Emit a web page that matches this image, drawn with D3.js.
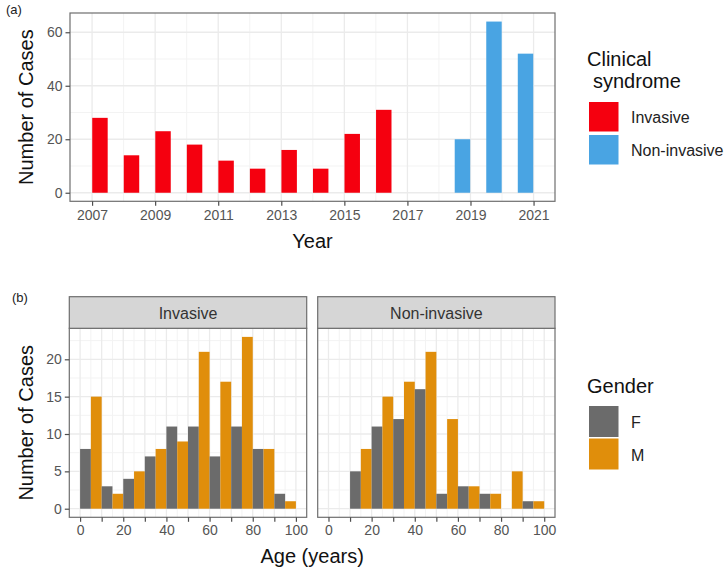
<!DOCTYPE html>
<html>
<head>
<meta charset="utf-8">
<script src="https://cdn.jsdelivr.net/npm/d3@7"></script>
<style>
  html, body { margin: 0; padding: 0; background: #fff; }
  svg { display: block; font-family: "Liberation Sans", Arial, Helvetica, sans-serif; }
</style>
</head>
<body>
<svg id="chart" width="728" height="571"></svg>
<script>
// ---------- Data ----------
const invasiveYears = [2007, 2008, 2009, 2010, 2011, 2012, 2013, 2014, 2015, 2016];
const invasiveCounts = [28, 14, 23, 18, 12, 9, 16, 9, 22, 31];
const nonInvasiveYears = [2019, 2020, 2021];
const nonInvasiveCounts = [20, 64, 52];
const yearTicks = [2007, 2009, 2011, 2013, 2015, 2017, 2019, 2021];
const yearMinor = [2008, 2010, 2012, 2014, 2016, 2018, 2020];
const casesTicksA = [0, 20, 40, 60];
const syndromes = ["Invasive", "Non-invasive"];

const ageBins = [0, 10, 20, 30, 40, 50, 60, 70, 80, 90];
const invasiveF = [8, 3, 4, 7, 11, 11, 7, 11, 8, 2];
const invasiveM = [15, 2, 5, 8, 9, 21, 17, 23, 8, 1];
const nonInvasiveF = [0, 5, 11, 12, 16, 2, 3, 2, 0, 1];
const nonInvasiveM = [0, 8, 15, 17, 21, 12, 3, 2, 5, 1];
const ageTicks = [0, 10, 20, 30, 40, 50, 60, 70, 80, 90, 100];
const ageLabels = ["0", "", "20", "", "40", "", "60", "", "80", "", "100"];
const casesTicksB = [0, 5, 10, 15, 20];
const genders = ["F", "M"];

// ---------- Styles ----------
const colSyn = { "Invasive": "#F5000F", "Non-invasive": "#49A4E3" };
const colGen = { "F": "#6B6B6B", "M": "#E08E0B" };
const gridMajor = "#EBEBEB", gridMinor = "#F3F3F3";
const borderCol = "#6E6E6E", tickCol = "#4D4D4D", tickTextCol = "#555555";

const svg = d3.select("#chart");

// ================= Panel (a) =================
const A = { left: 70, right: 555, top: 13, bottom: 201.3 };
const xA = d3.scaleLinear().domain([2006.3, 2021.68]).range([A.left, A.right]);
const yA = d3.scaleLinear().domain([-3.2, 67.2]).range([A.bottom, A.top]);

const gA = svg.append("g");
// grid
gA.selectAll(".vmin").data(yearMinor).enter().append("line")
  .attr("x1", d => xA(d)).attr("x2", d => xA(d)).attr("y1", A.top).attr("y2", A.bottom)
  .attr("stroke", gridMinor).attr("stroke-width", 1);
gA.selectAll(".hmin").data([10, 30, 50]).enter().append("line")
  .attr("y1", d => yA(d)).attr("y2", d => yA(d)).attr("x1", A.left).attr("x2", A.right)
  .attr("stroke", gridMinor).attr("stroke-width", 1);
gA.selectAll(".vmaj").data(yearTicks).enter().append("line")
  .attr("x1", d => xA(d)).attr("x2", d => xA(d)).attr("y1", A.top).attr("y2", A.bottom)
  .attr("stroke", gridMajor).attr("stroke-width", 1.3);
gA.selectAll(".hmaj").data(casesTicksA).enter().append("line")
  .attr("y1", d => yA(d)).attr("y2", d => yA(d)).attr("x1", A.left).attr("x2", A.right)
  .attr("stroke", gridMajor).attr("stroke-width", 1.3);

// bars
const barW = 0.49;
const barsA = invasiveYears.map((y, i) => ({ year: y, n: invasiveCounts[i], s: "Invasive", x0: y + 0.005 }))
  .concat(nonInvasiveYears.map((y, i) => ({ year: y, n: nonInvasiveCounts[i], s: "Non-invasive", x0: y - 0.5 })));
gA.selectAll(".barA").data(barsA).enter().append("rect")
  .attr("x", d => xA(d.x0)).attr("width", d => xA(d.x0 + barW) - xA(d.x0))
  .attr("y", d => yA(d.n)).attr("height", d => yA(0) - yA(d.n))
  .attr("fill", d => colSyn[d.s]);

// border
gA.append("rect").attr("x", A.left).attr("y", A.top)
  .attr("width", A.right - A.left).attr("height", A.bottom - A.top)
  .attr("fill", "none").attr("stroke", borderCol).attr("stroke-width", 1.2);

// axes
const axA_x = svg.append("g").attr("transform", `translate(0,${A.bottom})`)
  .call(d3.axisBottom(xA).tickValues(yearTicks).tickFormat(d3.format("d")).tickSizeOuter(0).tickSize(4.5).tickPadding(4));
const axA_y = svg.append("g").attr("transform", `translate(${A.left},0)`)
  .call(d3.axisLeft(yA).tickValues(casesTicksA).tickSizeOuter(0).tickSize(4.5).tickPadding(3));
[axA_x, axA_y].forEach(ax => {
  ax.select(".domain").remove();
  ax.selectAll(".tick line").attr("stroke", tickCol).attr("stroke-width", 1.2);
  ax.selectAll(".tick text").attr("fill", tickTextCol).style("font-size", "14px").style("font-family", "Liberation Sans, Arial, sans-serif");
});

svg.append("text").attr("x", xA(2006.3 + (2021.68 - 2006.3) / 2)).attr("y", 248)
  .attr("text-anchor", "middle").style("font-size", "20px").attr("fill", "#111").text("Year");
svg.append("text").attr("transform", `translate(33,${(A.top + A.bottom) / 2}) rotate(-90)`)
  .attr("text-anchor", "middle").style("font-size", "20px").attr("fill", "#111").text("Number of Cases");
svg.append("text").attr("x", 6).attr("y", 14).style("font-size", "13px").attr("fill", "#222").text("(a)");

// legend (a)
svg.append("text").attr("x", 587).attr("y", 66).style("font-size", "20px").attr("fill", "#111").text("Clinical");
svg.append("text").attr("x", 593).attr("y", 88).style("font-size", "20px").attr("fill", "#111").text("syndrome");
const legA = svg.append("g");
syndromes.forEach((s, i) => {
  const y0 = 102 + i * 33;
  legA.append("rect").attr("x", 589).attr("y", y0).attr("width", 29.5).attr("height", 29.5).attr("fill", colSyn[s]);
  legA.append("text").attr("x", 631).attr("y", y0 + 21).style("font-size", "16px").attr("fill", "#222").text(s);
});

// ================= Panel (b) =================
const B = { top: 328.3, bottom: 517.3, stripTop: 296.7 };
const panelsB = [
  { name: "Invasive", left: 69.3, right: 306.7, F: invasiveF, M: invasiveM },
  { name: "Non-invasive", left: 317.7, right: 555, F: nonInvasiveF, M: nonInvasiveM }
];
const yB = d3.scaleLinear().domain([-1.15, 24.15]).range([B.bottom, B.top]);
const ageMinor = d3.range(5, 100, 10).concat([-5, 105]);
const casesMinor = [2.5, 7.5, 12.5, 17.5, 22.5];

panelsB.forEach(p => {
  const xB = d3.scaleLinear().domain([-5, 105]).range([p.left, p.right]);
  const g = svg.append("g");
  g.selectAll(".vmin").data(ageMinor.filter(d => d > -5 && d < 105)).enter().append("line")
    .attr("x1", d => xB(d)).attr("x2", d => xB(d)).attr("y1", B.top).attr("y2", B.bottom)
    .attr("stroke", gridMinor).attr("stroke-width", 1);
  g.selectAll(".hmin").data(casesMinor).enter().append("line")
    .attr("y1", d => yB(d)).attr("y2", d => yB(d)).attr("x1", p.left).attr("x2", p.right)
    .attr("stroke", gridMinor).attr("stroke-width", 1);
  g.selectAll(".vmaj").data(ageTicks).enter().append("line")
    .attr("x1", d => xB(d)).attr("x2", d => xB(d)).attr("y1", B.top).attr("y2", B.bottom)
    .attr("stroke", gridMajor).attr("stroke-width", 1.3);
  g.selectAll(".hmaj").data(casesTicksB).enter().append("line")
    .attr("y1", d => yB(d)).attr("y2", d => yB(d)).attr("x1", p.left).attr("x2", p.right)
    .attr("stroke", gridMajor).attr("stroke-width", 1.3);

  const bars = [];
  ageBins.forEach((b, i) => {
    if (p.F[i] > 0) bars.push({ x0: b, n: p.F[i], gnd: "F" });
    if (p.M[i] > 0) bars.push({ x0: b + 5, n: p.M[i], gnd: "M" });
  });
  g.selectAll(".barB").data(bars).enter().append("rect")
    .attr("x", d => xB(d.x0)).attr("width", d => xB(d.x0 + 5) - xB(d.x0))
    .attr("y", d => yB(d.n)).attr("height", d => yB(0) - yB(d.n))
    .attr("fill", d => colGen[d.gnd]);

  g.append("rect").attr("x", p.left).attr("y", B.top)
    .attr("width", p.right - p.left).attr("height", B.bottom - B.top)
    .attr("fill", "none").attr("stroke", borderCol).attr("stroke-width", 1.2);
  // strip
  g.append("rect").attr("x", p.left).attr("y", B.stripTop)
    .attr("width", p.right - p.left).attr("height", B.top - B.stripTop)
    .attr("fill", "#D6D6D6").attr("stroke", borderCol).attr("stroke-width", 1.2);
  g.append("text").attr("x", (p.left + p.right) / 2).attr("y", (B.stripTop + B.top) / 2 + 6)
    .attr("text-anchor", "middle").style("font-size", "16px").attr("fill", "#333").text(p.name);

  const ax = svg.append("g").attr("transform", `translate(0,${B.bottom})`)
    .call(d3.axisBottom(xB).tickValues(ageTicks).tickFormat((d, i) => ageLabels[i]).tickSizeOuter(0).tickSize(4.5).tickPadding(3));
  ax.select(".domain").remove();
  ax.selectAll(".tick line").attr("stroke", tickCol).attr("stroke-width", 1.2);
  ax.selectAll(".tick text").attr("fill", tickTextCol).style("font-size", "14px").style("font-family", "Liberation Sans, Arial, sans-serif");
});

const axB_y = svg.append("g").attr("transform", `translate(${panelsB[0].left},0)`)
  .call(d3.axisLeft(yB).tickValues(casesTicksB).tickSizeOuter(0).tickSize(4.5).tickPadding(3));
axB_y.select(".domain").remove();
axB_y.selectAll(".tick line").attr("stroke", tickCol).attr("stroke-width", 1.2);
axB_y.selectAll(".tick text").attr("fill", tickTextCol).style("font-size", "14px").style("font-family", "Liberation Sans, Arial, sans-serif");

svg.append("text").attr("x", (panelsB[0].left + panelsB[1].right) / 2).attr("y", 563)
  .attr("text-anchor", "middle").style("font-size", "20px").attr("fill", "#111").text("Age (years)");
svg.append("text").attr("transform", `translate(33,${(B.top + B.bottom) / 2}) rotate(-90)`)
  .attr("text-anchor", "middle").style("font-size", "20px").attr("fill", "#111").text("Number of Cases");
svg.append("text").attr("x", 12).attr("y", 302).style("font-size", "13px").attr("fill", "#222").text("(b)");

// legend (b)
svg.append("text").attr("x", 587).attr("y", 393).style("font-size", "20px").attr("fill", "#111").text("Gender");
genders.forEach((s, i) => {
  const y0 = 406 + i * 32.5;
  svg.append("rect").attr("x", 589).attr("y", y0).attr("width", 29.5).attr("height", 31).attr("fill", colGen[s]);
  svg.append("text").attr("x", 631).attr("y", y0 + 22).style("font-size", "16px").attr("fill", "#222").text(s);
});
</script>
</body>
</html>
